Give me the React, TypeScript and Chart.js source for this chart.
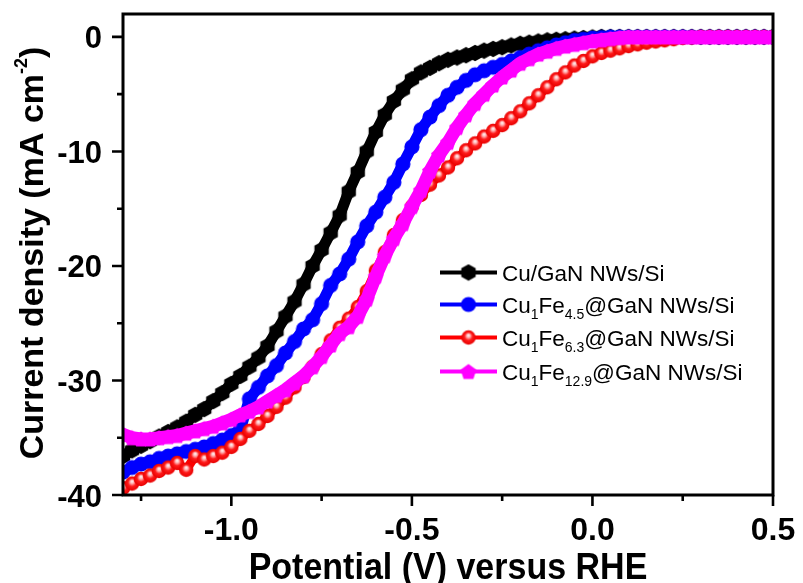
import React, { useEffect, useRef } from 'react';
import { Chart, registerables } from 'chart.js';

Chart.register(...registerables);

// Potential (V vs RHE)
const potentials = [
  -1.3, -1.275, -1.25, -1.225, -1.2, -1.175, -1.15, -1.125, -1.1, -1.075, -1.05, -1.025,
  -1.0, -0.975, -0.95, -0.925, -0.9, -0.875, -0.85, -0.825, -0.8, -0.775, -0.75, -0.725,
  -0.7, -0.675, -0.65, -0.625, -0.6, -0.575, -0.55, -0.525, -0.5, -0.475, -0.45, -0.425,
  -0.4, -0.375, -0.35, -0.325, -0.3, -0.275, -0.25, -0.225, -0.2, -0.175, -0.15, -0.125,
  -0.1, -0.075, -0.05, -0.025, 0, 0.025, 0.05, 0.075, 0.1, 0.125, 0.15, 0.175,
  0.2, 0.225, 0.25, 0.275, 0.3, 0.325, 0.35, 0.375, 0.4, 0.425, 0.45, 0.475, 0.5,
];

// Current density (mA cm-2)
const cuGaN = [
  -36.6, -36.1, -35.7, -35.3, -34.9, -34.5, -34.1, -33.6, -33.0, -32.5, -31.8, -31.1,
  -30.3, -29.6, -28.8, -28.0, -27.0, -25.7, -24.4, -23.1, -21.6, -20.0, -18.6, -17.1,
  -15.6, -13.5, -11.8, -10.0, -8.3, -6.8, -5.6, -4.6, -3.7, -3.1, -2.7, -2.3,
  -2.0, -1.8, -1.6, -1.4, -1.2, -1.05, -0.9, -0.75, -0.6, -0.5, -0.4, -0.3,
  -0.25, -0.2, -0.15, -0.1, -0.05, 0, 0, 0, 0, 0, 0, 0,
  0, 0, 0, 0, 0, 0, 0, 0, 0, 0, 0, 0, 0,
];
const cuFe45 = [
  -38.0, -37.6, -37.3, -37.1, -36.8, -36.6, -36.4, -36.2, -36.0, -35.8, -35.5, -35.2,
  -34.8, -34.3, -31.6, -30.6, -29.6, -28.7, -27.6, -26.6, -25.5, -24.7, -23.3, -21.7,
  -20.7, -19.4, -17.9, -16.5, -15.3, -14.0, -12.7, -11.1, -9.6, -8.1, -7.0, -6.0,
  -5.1, -4.4, -3.8, -3.3, -2.95, -2.65, -2.4, -2.1, -1.8, -1.5, -1.2, -0.95,
  -0.7, -0.5, -0.3, -0.2, -0.1, -0.05, 0, 0, 0, 0, 0, 0,
  0, 0, 0, 0, 0, 0, 0, 0, 0, 0, 0, 0, 0,
];
const cuFe63 = [
  -39.4, -39.0, -38.6, -38.3, -37.9, -37.6, -37.2, -37.8, -36.6, -36.9, -36.6, -36.3,
  -35.8, -35.1, -34.4, -33.8, -33.1, -32.3, -31.5, -30.6, -29.7, -28.8, -27.7, -26.5,
  -25.4, -24.6, -23.6, -22.2, -20.4, -18.8, -17.3, -16.0, -14.8, -13.8, -12.9, -12.1,
  -11.4, -10.6, -9.9, -9.3, -8.7, -8.2, -7.7, -7.1, -6.5, -5.8, -5.1, -4.4,
  -3.7, -3.1, -2.5, -2.1, -1.7, -1.4, -1.2, -1.0, -0.8, -0.65, -0.5, -0.4,
  -0.3, -0.2, -0.1, -0.05, 0, 0, 0, 0, 0, 0, 0, 0, 0,
];
const cuFe129 = [
  -34.7, -35.0, -35.1, -35.1, -35.0, -34.9, -34.8, -34.6, -34.4, -34.2, -34.0, -33.7,
  -33.4, -33.0, -32.7, -32.3, -31.8, -31.3, -30.8, -30.2, -29.6, -28.8, -27.9, -26.9,
  -25.9, -25.3, -24.4, -22.9, -20.9, -19.1, -17.6, -16.3, -14.8, -13.4, -11.7, -10.3,
  -9.2, -7.9, -6.8, -5.8, -5.0, -4.2, -3.5, -2.9, -2.3, -1.9, -1.5, -1.25,
  -1.0, -0.8, -0.65, -0.5, -0.35, -0.25, -0.15, -0.06, 0, 0, 0, 0,
  0, 0, 0, 0, 0, 0, 0, 0, 0, 0, 0, 0, 0,
];

const xMajorTicks = [-1.0, -0.5, 0.0, 0.5];
const xTickLabels = ['-1.0', '-0.5', '0.0', '0.5'];
const xMinorTicks = [-1.25, -0.75, -0.25, 0.25];
const yMajorTicks = [0, -10, -20, -30, -40];
const yTickLabels = ['0', '-10', '-20', '-30', '-40'];
const yMinorTicks = [-5, -15, -25, -35];

// legend labels: [text, isSubscript]
const legendLabels: [string, boolean][][] = [
  [['Cu/GaN NWs/Si', false]],
  [['Cu', false], ['1', true], ['Fe', false], ['4.5', true], ['@GaN NWs/Si', false]],
  [['Cu', false], ['1', true], ['Fe', false], ['6.3', true], ['@GaN NWs/Si', false]],
  [['Cu', false], ['1', true], ['Fe', false], ['12.9', true], ['@GaN NWs/Si', false]],
];
const xTitle = 'Potential (V) versus RHE';
const yTitleMain = 'Current density (mA cm';
const yTitleSup = '-2';
const yTitleEnd = ')';

const FONT = '"Liberation Sans", Arial, sans-serif';

function makeMarker(kind: string, color: string): HTMLCanvasElement {
  const c = document.createElement('canvas');
  const s = 18;
  c.width = s;
  c.height = s;
  const ctx = c.getContext('2d')!;
  const cx = s / 2;
  const cy = s / 2;
  ctx.fillStyle = color;
  if (kind === 'hex' || kind === 'pent') {
    const n = kind === 'hex' ? 6 : 5;
    const r = 8.3;
    ctx.beginPath();
    for (let i = 0; i < n; i++) {
      const a = -Math.PI / 2 + (i * 2 * Math.PI) / n;
      const px = cx + r * Math.cos(a);
      const py = cy + r * Math.sin(a) + (kind === 'pent' ? 0.9 : 0);
      if (i === 0) ctx.moveTo(px, py);
      else ctx.lineTo(px, py);
    }
    ctx.closePath();
    ctx.fill();
  } else if (kind === 'ball') {
    const r = 7.2;
    const g = ctx.createRadialGradient(cx, cy - 2.4, 0, cx, cy, r);
    g.addColorStop(0, '#ffffff');
    g.addColorStop(0.25, '#ffb4b4');
    g.addColorStop(0.55, '#ff1a1a');
    g.addColorStop(1, '#e60000');
    ctx.fillStyle = g;
    ctx.beginPath();
    ctx.arc(cx, cy, r, 0, Math.PI * 2);
    ctx.fill();
  } else {
    ctx.beginPath();
    ctx.arc(cx, cy, 7.6, 0, Math.PI * 2);
    ctx.fill();
  }
  return c;
}

export default function App() {
  const ref = useRef<HTMLCanvasElement | null>(null);

  useEffect(() => {
    if (!ref.current) return;
    const markers = [
      makeMarker('hex', '#000000'),
      makeMarker('circle', '#0000ff'),
      makeMarker('ball', '#ff0000'),
      makeMarker('pent', '#ff00ff'),
    ];
    const colors = ['#000000', '#0000ff', '#ff0000', '#ff00ff'];
    const series = [cuGaN, cuFe45, cuFe63, cuFe129];
    const widths = [11, 11, 9, 13];
    const orders = [4, 3, 2, 1];

    const datasets = series.map((arr, k) => ({
      label: 'series' + k,
      data: potentials.map((x, i) => ({ x, y: arr[i] })),
      borderColor: colors[k],
      backgroundColor: colors[k],
      borderWidth: widths[k],
      borderJoinStyle: 'round' as const,
      borderCapStyle: 'round' as const,
      pointStyle: markers[k] as any,
      pointRadius: 8,
      tension: 0,
      fill: false,
      order: orders[k],
    }));

    const decor = {
      id: 'decor',
      afterDraw(chart: any) {
        const ctx: CanvasRenderingContext2D = chart.ctx;
        const { left, right, top, bottom } = chart.chartArea;
        const xs = chart.scales.x;
        const ys = chart.scales.y;
        ctx.save();
        ctx.strokeStyle = '#000';
        ctx.lineWidth = 3;
        ctx.lineCap = 'butt';
        ctx.strokeRect(left, top, right - left, bottom - top);
        ctx.lineWidth = 2.6;
        ctx.beginPath();
        xMajorTicks.forEach((v) => {
          const p = xs.getPixelForValue(v);
          ctx.moveTo(p, bottom);
          ctx.lineTo(p, bottom + 11);
        });
        xMinorTicks.forEach((v) => {
          const p = xs.getPixelForValue(v);
          ctx.moveTo(p, bottom);
          ctx.lineTo(p, bottom + 6);
        });
        yMajorTicks.forEach((v) => {
          const p = ys.getPixelForValue(v);
          ctx.moveTo(left, p);
          ctx.lineTo(left - 11, p);
        });
        yMinorTicks.forEach((v) => {
          const p = ys.getPixelForValue(v);
          ctx.moveTo(left, p);
          ctx.lineTo(left - 6, p);
        });
        ctx.stroke();

        // tick labels
        ctx.fillStyle = '#000';
        ctx.textBaseline = 'alphabetic';
        ctx.font = `bold 31px ${FONT}`;
        ctx.textAlign = 'right';
        yMajorTicks.forEach((v, i) => {
          ctx.fillText(yTickLabels[i], left - 21, ys.getPixelForValue(v) + 11.5);
        });
        ctx.font = `bold 32px ${FONT}`;
        ctx.textAlign = 'center';
        xMajorTicks.forEach((v, i) => {
          ctx.fillText(xTickLabels[i], xs.getPixelForValue(v), 540);
        });

        // axis titles
        ctx.save();
        ctx.font = `bold 34px ${FONT}`;
        ctx.textAlign = 'center';
        ctx.translate((left + right) / 2, 579);
        ctx.scale(1, 1.08);
        ctx.fillText(xTitle, 0, 0);
        ctx.restore();

        ctx.save();
        ctx.translate(43, 253);
        ctx.rotate(-Math.PI / 2);
        ctx.textAlign = 'left';
        ctx.font = `bold 34px ${FONT}`;
        const w1 = ctx.measureText(yTitleMain).width;
        const w3 = ctx.measureText(yTitleEnd).width;
        ctx.font = `bold 18px ${FONT}`;
        const w2 = ctx.measureText(yTitleSup).width;
        const total = w1 + w2 + w3;
        let x0 = -total / 2;
        ctx.font = `bold 34px ${FONT}`;
        ctx.fillText(yTitleMain, x0, 0);
        x0 += w1;
        ctx.font = `bold 18px ${FONT}`;
        ctx.fillText(yTitleSup, x0, -16);
        x0 += w2;
        ctx.font = `bold 34px ${FONT}`;
        ctx.fillText(yTitleEnd, x0, 0);
        ctx.restore();

        // legend
        const baselines = [281, 313, 346, 380];
        legendLabels.forEach((parts, k) => {
          const by = baselines[k];
          const ly = by - 8.5;
          ctx.strokeStyle = colors[k];
          ctx.lineWidth = 4;
          ctx.beginPath();
          ctx.moveTo(440, ly);
          ctx.lineTo(497, ly);
          ctx.stroke();
          const m = markers[k];
          ctx.drawImage(m, 468.5 - m.width / 2, ly - m.height / 2);
          let tx = 502;
          ctx.fillStyle = '#000';
          ctx.textAlign = 'left';
          parts.forEach(([t, sub]) => {
            ctx.font = sub ? `14px ${FONT}` : `22.5px ${FONT}`;
            ctx.fillText(t, tx, sub ? by + 6 : by);
            tx += ctx.measureText(t).width;
          });
        });
        ctx.restore();
      },
    };

    const chart = new Chart(ref.current, {
      type: 'line',
      data: { datasets: datasets as any },
      options: {
        responsive: false,
        maintainAspectRatio: false,
        animation: false,
        layout: { autoPadding: false, padding: { top: 14, right: 30, left: 0, bottom: 0 } },
        plugins: { legend: { display: false }, tooltip: { enabled: false } },
        scales: {
          x: {
            type: 'linear',
            min: -1.3,
            max: 0.5,
            grid: { display: false, drawTicks: false },
            border: { display: false },
            ticks: { display: false, stepSize: 0.5, includeBounds: false },
            afterFit: (s: any) => {
              s.height = 88;
            },
          },
          y: {
            type: 'linear',
            min: -40,
            max: 2,
            grid: { display: false, drawTicks: false },
            border: { display: false },
            ticks: { display: false, stepSize: 10, includeBounds: false },
            afterFit: (s: any) => {
              s.width = 123;
            },
          },
        },
      },
      plugins: [decor],
    });
    return () => chart.destroy();
  }, []);

  return (
    <div style={{ position: 'fixed', left: 0, top: 0, width: 803, height: 583, background: '#fff' }}>
      <canvas ref={ref} width={803} height={583} style={{ display: 'block' }} />
    </div>
  );
}
